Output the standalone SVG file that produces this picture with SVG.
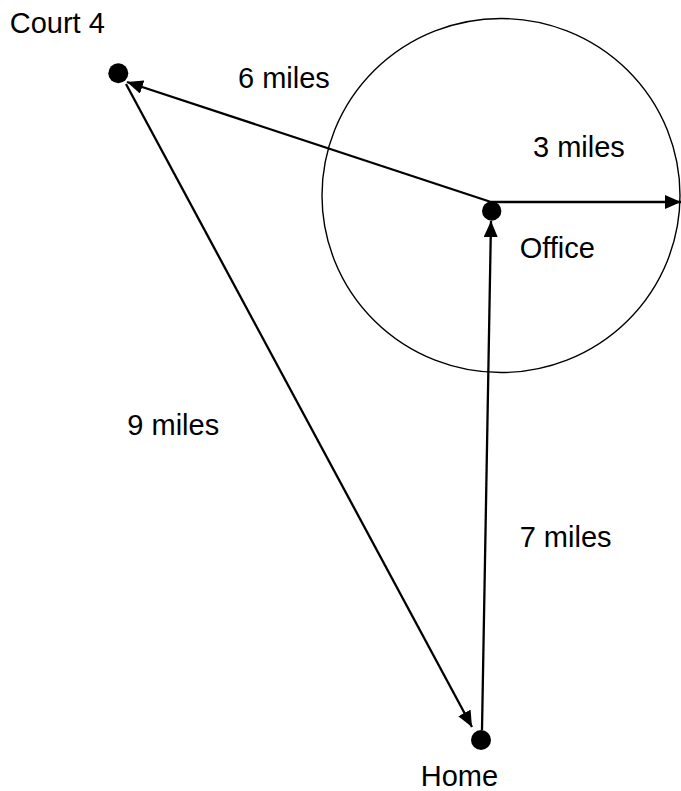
<svg xmlns="http://www.w3.org/2000/svg" width="681" height="791" viewBox="0 0 681 791">
  <style>
    .lbl { font-family: "Liberation Sans", Arial, sans-serif; font-size: 29px; fill: #000; }
    .edge { stroke: #000; stroke-width: 2.3; fill: none; marker-end: url(#arrow); }
    .dot { fill: #000; }
    .ring { stroke: #000; stroke-width: 1.4; fill: none; }
  </style>
  <defs>
    <marker id="arrow" markerUnits="userSpaceOnUse" markerWidth="17" markerHeight="14" refX="16" refY="7" orient="auto">
      <path d="M0,0 L16,7 L0,14 z" fill="#000"/>
    </marker>
  </defs>
  <rect width="681" height="791" fill="#fff"/>

  <g id="radius-circle">
    <ellipse class="ring" cx="501" cy="195.5" rx="179" ry="177"/>
  </g>

  <g id="connectors">
    <line class="edge" x1="491" y1="202" x2="127" y2="82"/>
    <line class="edge" x1="491" y1="202" x2="681" y2="202"/>
    <line class="edge" x1="482" y1="730" x2="491" y2="221"/>
    <line class="edge" x1="126" y1="84" x2="472" y2="727"/>
    <text class="lbl" x="238" y="87.7">6 miles</text>
    <text class="lbl" x="533" y="157.3">3 miles</text>
    <text class="lbl" x="127.3" y="435">9 miles</text>
    <text class="lbl" x="519.7" y="547.3">7 miles</text>
  </g>

  <g id="court4">
    <circle class="dot" cx="118.3" cy="73.3" r="10"/>
    <text class="lbl" x="9.7" y="33.3">Court 4</text>
  </g>

  <g id="office">
    <circle class="dot" cx="491.7" cy="211" r="9.7"/>
    <text class="lbl" x="519.7" y="258.3">Office</text>
  </g>

  <g id="home">
    <circle class="dot" cx="481" cy="740" r="10"/>
    <text class="lbl" x="420.7" y="786">Home</text>
  </g>
</svg>
